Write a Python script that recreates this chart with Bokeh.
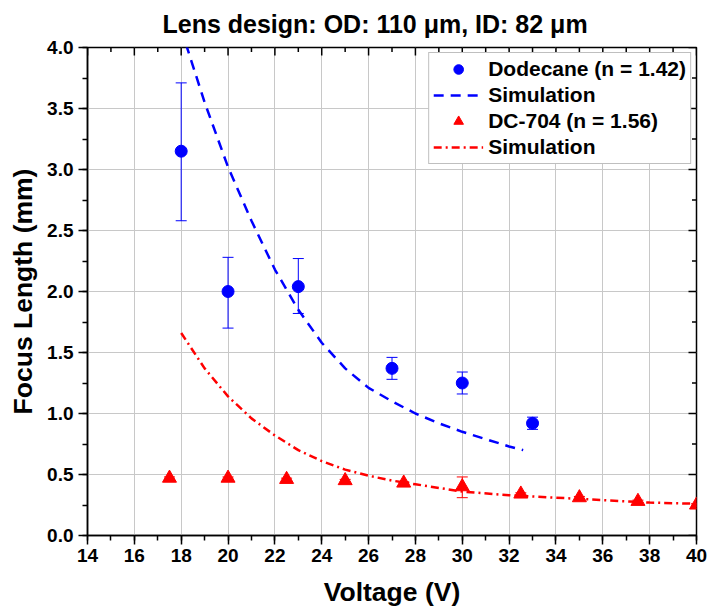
import math
from bokeh.plotting import figure
from bokeh.models import (Range1d, LinearAxis, SingleIntervalTicker, NumeralTickFormatter,
                          ColumnDataSource, Whisker, TeeHead, Legend, LegendItem)
from bokeh.embed import file_html
from bokeh.resources import INLINE

FONT = "Liberation Sans"

# ---- data ----
dod_v = [18, 20, 23, 27, 30, 33]
dod_f = [3.15, 2.00, 2.04, 1.37, 1.25, 0.92]
dod_lo = [2.58, 1.70, 1.82, 1.28, 1.16, 0.87]
dod_hi = [3.71, 2.28, 2.27, 1.46, 1.34, 0.97]

dod_sim_v = [18.2, 19, 20, 21, 22, 23, 24, 25, 26, 27, 28, 29, 30, 31, 32, 32.6]
dod_sim_f = [4.03, 3.55, 3.02, 2.58, 2.18, 1.85, 1.58, 1.37, 1.21, 1.10, 1.00, 0.92, 0.85, 0.79, 0.73, 0.70]

dc_v = [17.5, 20, 22.5, 25, 27.5, 30, 32.5, 35, 37.5, 40]
dc_f = [0.47, 0.47, 0.46, 0.45, 0.43, 0.40, 0.34, 0.31, 0.28, 0.25]
dc_lo = [0.46, 0.46, 0.45, 0.44, 0.42, 0.31, 0.33, 0.30, 0.27, 0.24]
dc_hi = [0.48, 0.48, 0.47, 0.46, 0.44, 0.48, 0.35, 0.32, 0.29, 0.26]

dc_sim_v = [18, 19, 20, 21, 22, 23, 24, 25, 26, 27, 28, 29, 30, 32, 34, 36, 38, 40]
dc_sim_f = [1.66, 1.37, 1.14, 0.96, 0.82, 0.70, 0.61, 0.54, 0.49, 0.45, 0.42, 0.39, 0.36, 0.33, 0.31, 0.29, 0.27, 0.26]

# axis tick positions (for the mirrored inner ticks on top / right)
x_min, x_max = 14, 40
y_min, y_max = 0.0, 4.0
x_major = [14, 16, 18, 20, 22, 24, 26, 28, 30, 32, 34, 36, 38, 40]
x_minor = [15, 17, 19, 21, 23, 25, 27, 29, 31, 33, 35, 37, 39]
y_major = [0.0, 0.5, 1.0, 1.5, 2.0, 2.5, 3.0, 3.5, 4.0]
y_minor = [0.25, 0.75, 1.25, 1.75, 2.25, 2.75, 3.25, 3.75]

title_text = "Lens design: OD: 110 \u03bcm, ID: 82 \u03bcm"
x_label = "Voltage (V)"
y_label = "Focus Length (mm)"

BLUE = "#0000ff"
RED = "#ff0000"

p = figure(width=707, height=612,
           x_range=Range1d(x_min, x_max), y_range=Range1d(y_min, y_max),
           output_backend="svg", toolbar_location=None,
           min_border_left=87, min_border_right=11, min_border_top=47, min_border_bottom=77,
           x_axis_location=None, y_axis_location=None,
           title=title_text)

p.title.text_font = FONT
p.title.text_font_size = "25px"
p.title.text_font_style = "bold"
p.title.text_color = "black"
p.title.align = "left"
p.title.vertical_align = "top"
p.title.offset = 75
p.title.standoff = 16

xt = SingleIntervalTicker(interval=2, num_minor_ticks=2)
yt = SingleIntervalTicker(interval=0.5, num_minor_ticks=2)


def style_axis(ax):
    ax.axis_line_width = 1.5
    ax.major_tick_line_width = 1.5
    ax.minor_tick_line_width = 1.5
    ax.axis_line_color = "black"
    ax.major_tick_line_color = "black"
    ax.minor_tick_line_color = "black"
    ax.major_tick_in = 0
    ax.major_tick_out = 9
    ax.minor_tick_in = 0
    ax.minor_tick_out = 5
    ax.major_label_text_font = FONT
    ax.major_label_text_font_size = "19px"
    ax.major_label_text_font_style = "bold"
    ax.major_label_text_color = "black"
    ax.axis_label_text_font = FONT
    ax.axis_label_text_font_size = "26.5px"
    ax.axis_label_text_font_style = "bold"
    ax.axis_label_text_color = "black"


xb = LinearAxis(ticker=xt, axis_label=x_label)
style_axis(xb)
xb.major_label_standoff = 4
xb.axis_label_standoff = 12
p.add_layout(xb, "below")

yl = LinearAxis(ticker=yt, axis_label=y_label,
                formatter=NumeralTickFormatter(format="0.0"))
style_axis(yl)
yl.major_label_standoff = 5
yl.axis_label_standoff = 6
p.add_layout(yl, "left")

p.xgrid.ticker = xt
p.ygrid.ticker = yt
for g in (p.xgrid, p.ygrid):
    g.grid_line_color = "#c8c8c8"
    g.grid_line_width = 1

p.outline_line_color = "black"
p.outline_line_width = 1.5
p.background_fill_color = "white"
p.border_fill_color = "white"

# inner ticks on the top and right frame edges (half of each dash is clipped by the frame)
p.scatter(x_major, [y_max] * len(x_major), marker="dash", size=16, angle=math.pi / 2,
          line_color="black", line_width=1.5)
p.scatter(x_minor, [y_max] * len(x_minor), marker="dash", size=9, angle=math.pi / 2,
          line_color="black", line_width=1.5)
p.scatter([x_max] * len(y_major), y_major, marker="dash", size=16,
          line_color="black", line_width=1.5)
p.scatter([x_max] * len(y_minor), y_minor, marker="dash", size=9,
          line_color="black", line_width=1.5)

# error bars
src_d = ColumnDataSource(dict(x=dod_v, y=dod_f, lo=dod_lo, hi=dod_hi))
src_c = ColumnDataSource(dict(x=dc_v, y=dc_f, lo=dc_lo, hi=dc_hi))

p.add_layout(Whisker(source=src_d, base="x", lower="lo", upper="hi",
                     line_color=BLUE, line_width=1,
                     upper_head=TeeHead(size=11, line_color=BLUE, line_width=1),
                     lower_head=TeeHead(size=11, line_color=BLUE, line_width=1)))
p.add_layout(Whisker(source=src_c, base="x", lower="lo", upper="hi",
                     line_color=RED, line_width=1,
                     upper_head=TeeHead(size=11, line_color=RED, line_width=1),
                     lower_head=TeeHead(size=11, line_color=RED, line_width=1)))

r_sim_d = p.line(dod_sim_v, dod_sim_f, line_color=BLUE, line_width=2.5, line_dash="10 7")
r_sim_c = p.line(dc_sim_v, dc_sim_f, line_color=RED, line_width=2.5, line_dash="8 4 2 4")
r_d = p.scatter("x", "y", source=src_d, marker="circle", size=12,
                fill_color=BLUE, line_color=BLUE)
r_c = p.scatter("x", "y", source=src_c, marker="triangle", size=14,
                fill_color=RED, line_color=RED)

legend = Legend(items=[
    LegendItem(label="Dodecane (n = 1.42)", renderers=[r_d]),
    LegendItem(label="Simulation", renderers=[r_sim_d]),
    LegendItem(label="DC-704 (n = 1.56)", renderers=[r_c]),
    LegendItem(label="Simulation", renderers=[r_sim_c]),
])
legend.location = "top_right"
legend.margin = 5
legend.padding = 4
legend.spacing = 2
legend.glyph_width = 50
legend.glyph_height = 24
legend.label_standoff = 5
legend.label_text_font = FONT
legend.label_text_font_size = "21px"
legend.label_text_font_style = "bold"
legend.label_text_color = "black"
legend.border_line_color = "#808080"
legend.border_line_width = 1.5
legend.background_fill_color = "white"
legend.background_fill_alpha = 1
p.add_layout(legend)

open("out.html", "w").write(file_html(p, INLINE))
